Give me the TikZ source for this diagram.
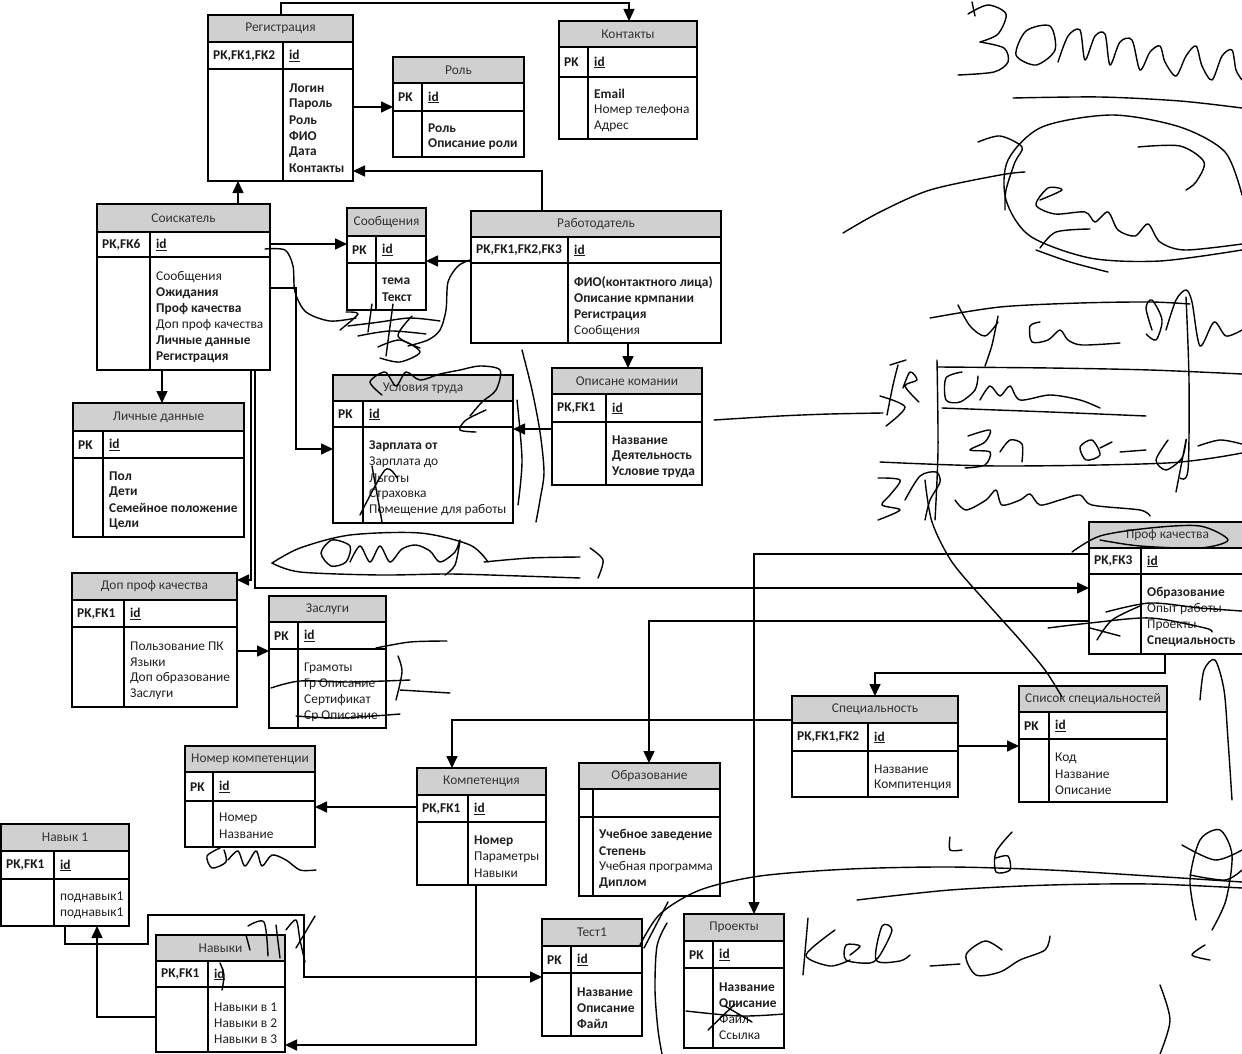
\documentclass[tikz,border=0pt]{standalone}
\usepackage{fontspec}
\setmainfont{Carlito}
\usetikzlibrary{arrows.meta}
\definecolor{hdrgray}{RGB}{208,208,208}
\def\fsb{\bfseries}
\def\fsn{\mdseries}
\tikzset{
  tblbox/.style={draw=black, line width=1.1pt, inner sep=0pt, outer sep=0pt},
  tline/.style={draw=black, line width=1.1pt},
  ttl/.style={inner sep=0pt, font=\fontsize{13.4}{16}\selectfont, text=black!80},
  pktext/.style={inner sep=0pt, anchor=west, font=\fontsize{13.4}{16}\selectfont\bfseries, text=black!90},
  fld/.style={inner sep=0pt, anchor=west, font=\fontsize{13.4}{16}\selectfont, text=black!88},
  conn/.style={draw=black, line width=1.6pt, -{Triangle[length=12pt,width=11pt]}},
  ink/.style={draw=black, line width=1.4pt, line cap=round, line join=round},
}
% name, x1, y1, x2, y2, header bottom, pk bottom, divider, title
\newcommand\ertab[9]{%
  \fill[hdrgray] (#2,#3) rectangle (#4,#6);
  \draw[tline] (#2,#6) -- (#4,#6) (#2,#7) -- (#4,#7) (#8,#6) -- (#8,#5);
  \node[tblbox, anchor=north west, minimum width={(#4-#2)*1pt}, minimum height={(#5-#3)*1pt}] (#1) at (#2,#3) {};
  \node[ttl] (#1-t) at ({(#2+#4)/2},{(#3+#6)/2}) {#9};
  \gdef\curL{#2}\gdef\curD{#8}\gdef\curP{(#6+#7)/2+0.5}%
}
\newcommand\erpk[3]{%
  \node[pktext] (#1-pk) at ({\curL+5},{\curP}) {#2};
  \node[pktext] (#1-id) at ({\curD+6},{\curP}) {\underline{#3}};
}
\newcommand\erfld[3]{%
  \foreach \s/\t [count=\i] in {#3} {
    \node[fld] (#1-f\i) at ({\curD+6},{#2+1+16*(\i-1)}) {\csname fs\s\endcsname\t};
  }
}
\begin{document}
\begin{tikzpicture}[x=1pt,y=-1pt]
\fill[white] (0,0) rectangle (1242,1054);
\useasboundingbox (0,0) rectangle (1242,1054);

% ---------- tables ----------
\ertab{reg}{208}{15}{353}{181}{42}{69}{283}{Регистрация}
\erpk{reg}{PK,FK1,FK2}{id}
\erfld{reg}{87}{b/Логин, b/Пароль, b/Роль, b/ФИО, b/Дата, b/Контакты}

\ertab{rol}{393}{57}{524}{157}{83}{111}{422}{Роль}
\erpk{rol}{PK}{id}
\erfld{rol}{127}{b/Роль, b/Описание роли}

\ertab{kont}{559}{21}{697}{139}{47}{77}{588}{Контакты}
\erpk{kont}{PK}{id}
\erfld{kont}{93}{b/Email, n/Номер телефона, n/Адрес}

\ertab{sos}{97}{204}{270}{370}{232}{257}{150}{Соискатель}
\erpk{sos}{PK,FK6}{id}
\erfld{sos}{276}{n/Сообщения, b/Ожидания, b/Проф качества, n/Доп проф качества, b/Личные данные, b/Регистрация}

\ertab{soob}{347}{208}{426}{310}{236}{263}{376}{Сообщения}
\erpk{soob}{PK}{id}
\erfld{soob}{280}{b/тема, b/Текст}

\ertab{rab}{471}{211}{721}{343}{237}{263}{568}{Работодатель}
\erpk{rab}{PK,FK1,FK2,FK3}{id}
\erfld{rab}{282}{b/ФИО(контактного лица), b/Описание крмпании, b/Регистрация, n/Сообщения}

\ertab{opis}{552}{368}{702}{485}{394}{422}{606}{Описане комании}
\erpk{opis}{PK,FK1}{id}
\erfld{opis}{439}{b/Название, b/Деятельность, b/Условие труда}

\ertab{usl}{333}{375}{513}{523}{401}{427}{363}{Условия труда}
\erpk{usl}{PK}{id}
\erfld{usl}{445}{b/Зарплата от, n/Зарплата до, n/Льготы, n/Страховка, n/Помещение для работы}

\ertab{lich}{73}{403}{244}{537}{431}{458}{103}{Личные данные}
\erpk{lich}{PK}{id}
\erfld{lich}{475}{b/Пол, b/Дети, b/Семейное положение, b/Цели}

\ertab{dop}{72}{573}{237}{707}{600}{627}{124}{Доп проф качества}
\erpk{dop}{PK,FK1}{id}
\erfld{dop}{645}{n/Пользование ПК, n/Языки, n/Доп образование, n/Заслуги}

\ertab{zasl}{269}{596}{386}{728}{622}{649}{298}{Заслуги}
\erpk{zasl}{PK}{id}
\erfld{zasl}{667}{n/Грамоты, n/Гр Описание, n/Сертификат, n/Ср Описание}

\ertab{prof}{1089}{522}{1246}{654}{548}{574}{1141}{Проф качества}
\erpk{prof}{PK,FK3}{id}
\erfld{prof}{592}{b/Образование, n/Опыт работы, n/Проекты, b/Специальность}

\ertab{spec}{792}{696}{958}{797}{723}{751}{868}{Специальность}
\erpk{spec}{PK,FK1,FK2}{id}
\erfld{spec}{768}{n/Название, n/Компитенция}

\ertab{spis}{1019}{686}{1167}{802}{712}{739}{1049}{Список специальностей}
\erpk{spis}{PK}{id}
\erfld{spis}{757}{n/Код, n/Название, n/Описание}

\ertab{obr}{579}{763}{720}{896}{789}{817}{593}{Образование}
\erfld{obr}{834}{b/Учебное заведение, b/Степень, n/Учебная программа, b/Диплом}

\ertab{proj}{684}{914}{784}{1048}{941}{968}{713}{Проекты}
\erpk{proj}{PK}{id}
\erfld{proj}{986}{b/Название, b/Описание, n/Файл, n/Ссылка}

\ertab{test}{542}{919}{642}{1036}{946}{973}{571}{Тест1}
\erpk{test}{PK}{id}
\erfld{test}{991}{b/Название, b/Описание, b/Файл}

\ertab{komp}{417}{768}{546}{885}{795}{822}{468}{Компетенция}
\erpk{komp}{PK,FK1}{id}
\erfld{komp}{840}{b/Номер, n/Параметры, n/Навыки}

\ertab{nom}{185}{746}{315}{847}{772}{801}{213}{Номер компетенции}
\erpk{nom}{PK}{id}
\erfld{nom}{817}{n/Номер, n/Название}

\ertab{nav1}{1}{824}{129}{926}{851}{879}{54}{Навык 1}
\erpk{nav1}{PK,FK1}{id}
\erfld{nav1}{896}{n/поднавык1, n/поднавык1}

\ertab{navk}{156}{935}{285}{1052}{961}{987}{208}{Навыки}
\erpk{navk}{PK,FK1}{id}
\erfld{navk}{1006}{n/Навыки в 1, n/Навыки в 2, n/Навыки в 3}

% ---------- connectors ----------
\draw[conn] (281,0 |- reg.north) -- (281,3) -| (629,0 |- kont.north);
\draw[conn] (reg.east |- 0,107) -- (rol.west |- 0,107);
\draw[conn] (542,0 |- rab.north) |- (reg.east |- 0,171);
\draw[conn] (238,0 |- sos.north) -- (238,0 |- reg.south);
\draw[conn] (sos.east |- 0,244) -- (soob.west |- 0,244);
\draw[conn] (rab.west |- 0,261) -- (soob.east |- 0,261);
\draw[conn] (sos.east |- 0,288) -- (296,288) |- (usl.west |- 0,449);
\draw[conn] (628,0 |- rab.south) -- (628,0 |- opis.north);
\draw[conn] (opis.west |- 0,429) -- (usl.east |- 0,429);
\draw[conn] (162,0 |- sos.south) -- (162,0 |- lich.north);
\draw[conn] (251,0 |- sos.south) |- (dop.east |- 0,580);
\draw[conn] (255,0 |- sos.south) |- (prof.west |- 0,588);
\draw[conn] (dop.east |- 0,651) -- (zasl.west |- 0,651);
\draw[conn] (prof.west |- 0,554) -| (754,0 |- proj.north);
\draw[conn] (prof.west |- 0,621) -| (649,0 |- obr.north);
\draw[conn] (1165,0 |- prof.south) -- (1165,673) -| (875,0 |- spec.north);
\draw[conn] (spec.west |- 0,720) -| (452,0 |- komp.north);
\draw[conn] (spec.east |- 0,746) -- (spis.west |- 0,746);
\draw[conn] (komp.west |- 0,807) -- (nom.east |- 0,807);
\draw[conn] (476,0 |- komp.south) |- (navk.east |- 0,1045);
\draw[conn] (65,0 |- nav1.south) -- (65,944) -- (148,944) -- (148,915) -- (304,915) |- (test.west |- 0,977);
\draw[conn] (navk.west |- 0,1017) -| (97,0 |- nav1.south);

% ---------- handwriting (ink strokes) ----------
% top right
\draw[ink] plot[smooth] coordinates {(968,14) (988,5) (1006,14) (998,34) (980,42)};
\draw[ink] plot[smooth] coordinates {(980,42) (1004,48) (1008,62) (994,72) (958,75)};
\draw[ink] plot[smooth] coordinates {(972,2) (975,16)};
\draw[ink] plot[smooth cycle] coordinates {(1050,26) (1026,31) (1016,55) (1036,65) (1055,50)};
\draw[ink] plot[smooth] coordinates {(1058,62) (1068,36) (1080,30) (1085,60) (1095,36) (1105,34) (1110,65) (1120,42) (1132,40) (1140,70) (1150,52) (1160,46) (1165,62) (1176,76) (1186,56) (1196,46) (1202,66) (1212,80) (1222,56) (1232,50) (1236,70) (1242,80)};
\draw[ink] plot[smooth] coordinates {(1013,98) (1100,97) (1180,101) (1242,108)};
\draw[ink] plot[smooth] coordinates {(1242,195) (1225,152) (1180,127) (1112,115) (1042,127) (1008,160) (1006,200) (1030,236) (1090,258) (1160,261) (1242,250)};
\draw[ink] plot[smooth] coordinates {(843,233) (880,212) (930,190) (1000,175) (1025,172)};
\draw[ink] plot[smooth] coordinates {(978,142) (1000,136) (1022,147) (1015,162) (1006,190) (1005,210)};
\draw[ink] plot[smooth] coordinates {(1040,200) (1062,190) (1048,188) (1036,205) (1055,214) (1085,212) (1095,222) (1108,212) (1118,230) (1135,236) (1148,224) (1160,242) (1185,250) (1242,244)};
\draw[ink] plot[smooth] coordinates {(1138,147) (1180,146) (1204,162) (1196,182) (1186,190)};
\draw[ink] plot[smooth] coordinates {(1040,248) (1056,232) (1090,229)};
\draw[ink] plot[smooth] coordinates {(1036,250) (1070,262) (1108,272)};
% middle right
\draw[ink] plot[smooth] coordinates {(930,318) (1000,307) (1080,303) (1150,302) (1190,304)};
\draw[ink] plot[smooth] coordinates {(958,305) (970,326) (985,336) (998,322)};
\draw[ink] plot[smooth] coordinates {(998,316) (992,345) (985,366)};
\draw[ink] plot[smooth] coordinates {(1040,322) (1030,326) (1032,342) (1048,340) (1060,330) (1068,340) (1082,345) (1120,343)};
\draw[ink] plot[smooth] coordinates {(1152,330) (1146,308) (1152,300) (1162,320) (1156,340) (1146,334)};
\draw[ink] plot[smooth] coordinates {(1166,330) (1176,300) (1186,290) (1192,302) (1200,346) (1214,322) (1226,336) (1242,330)};
\draw[ink] plot[smooth] coordinates {(1186,297) (1189,380) (1188,470) (1180,478)};
\draw[ink] plot[smooth] coordinates {(938,367) (1050,368) (1150,370) (1242,374)};
\draw[ink] plot[smooth] coordinates {(887,415) (893,385) (898,365)};
\draw[ink] plot[smooth] coordinates {(890,365) (906,360)};
\draw[ink] plot[smooth] coordinates {(903,388) (910,372) (917,380) (905,386) (919,402)};
\draw[ink] plot[smooth] coordinates {(937,360) (938,450) (935,520)};
\draw[ink] plot[smooth] coordinates {(962,372) (946,378) (946,400) (960,402) (975,390) (978,376)};
\draw[ink] plot[smooth] coordinates {(980,400) (990,386) (1000,396) (1010,386) (1020,400) (1050,395) (1080,400) (1100,408)};
\draw[ink] plot[smooth] coordinates {(942,408) (1050,412) (1146,416)};
\draw[ink] plot[smooth] coordinates {(968,436) (990,430) (985,442) (970,450) (990,452) (985,465) (965,468)};
\draw[ink] plot[smooth] coordinates {(1000,452) (1010,440) (1022,444) (1022,462)};
\draw[ink] plot[smooth cycle] coordinates {(1080,447) (1092,440) (1100,455) (1086,460)};
\draw[ink] plot[smooth] coordinates {(1100,448) (1112,442)};
\draw[ink] plot[smooth] coordinates {(1120,452) (1146,450)};
\draw[ink] plot[smooth] coordinates {(1168,440) (1156,460) (1166,470) (1182,458) (1186,440) (1176,492)};
\draw[ink] plot[smooth] coordinates {(1198,446) (1220,440) (1242,444)};
\draw[ink] plot[smooth] coordinates {(880,462) (1000,466) (1167,463) (1242,453)};
\draw[ink] plot[smooth] coordinates {(878,478) (900,480) (890,495) (882,505) (900,510) (878,520)};
\draw[ink] plot[smooth] coordinates {(905,500) (920,476) (936,472) (940,482) (930,500) (925,520)};
\draw[ink] plot[smooth] coordinates {(955,500) (966,510) (986,500) (996,490) (1002,505) (1020,500) (1030,494) (1040,505) (1060,500) (1080,495) (1092,505) (1140,510) (1150,516)};
\draw[ink] plot[smooth] coordinates {(714,420) (780,416) (830,414) (883,413)};
\draw[ink] plot[smooth] coordinates {(880,396) (905,407) (886,426)};
\draw[ink] plot[smooth] coordinates {(925,480) (932,522) (952,562) (986,602) (1020,640) (1045,670) (1062,697)};
% around Soobshcheniya / Usloviya truda
\draw[ink] plot[smooth] coordinates {(265,249) (285,250) (293,266) (295,292) (306,312) (330,321) (356,318)};
\draw[ink] plot[smooth] coordinates {(340,330) (358,314) (346,312)};
\draw[ink] plot[smooth] coordinates {(348,326) (380,322) (410,318) (440,321)};
\draw[ink] plot[smooth] coordinates {(358,336) (390,331) (426,334)};
\draw[ink] plot[smooth] coordinates {(372,304) (368,332)};
\draw[ink] plot[smooth] coordinates {(393,304) (386,356)};
\draw[ink] plot[smooth] coordinates {(412,316) (398,336) (420,348)};
\draw[ink] plot[smooth] coordinates {(378,347) (400,340) (420,352) (400,362) (380,358)};
\draw[ink] plot[smooth] coordinates {(470,260) (458,266) (448,282) (446,310) (440,330) (428,340) (408,346)};
\draw[ink] plot[smooth] coordinates {(382,395) (370,382) (385,372) (396,386) (406,372) (420,380) (440,374) (460,370) (480,366) (500,370) (496,390) (482,402) (470,416)};
\draw[ink] plot[smooth] coordinates {(486,410) (466,420) (460,430) (476,432)};
\draw[ink] plot[smooth] coordinates {(522,350) (532,390) (540,432) (544,472) (540,500) (536,522)};
\draw[ink] plot[smooth] coordinates {(517,400) (522,460) (518,505)};
\draw[ink] plot[smooth] coordinates {(360,515) (385,470) (397,478)};
\draw[ink] plot[smooth] coordinates {(372,466) (382,522)};
% Otchet ellipse
\draw[ink] plot[smooth] coordinates {(488,562) (470,545) (420,533) (350,535) (300,548) (272,563)};
\draw[ink] plot[smooth] coordinates {(272,563) (300,572) (380,575) (450,574) (520,576) (580,578)};
\draw[ink] plot[smooth cycle] coordinates {(332,540) (321,553) (331,566) (346,562) (350,546)};
\draw[ink] plot[smooth] coordinates {(350,562) (360,546) (370,562) (380,546) (390,562) (402,549) (416,545) (430,551) (440,562) (455,552) (460,540) (455,565) (445,575)};
\draw[ink] plot[smooth] coordinates {(484,562) (530,558) (580,557)};
\draw[ink] plot[smooth] coordinates {(590,548) (603,560) (598,578)};
% Zaslugi
\draw[ink] plot[smooth] coordinates {(271,688) (300,681) (350,682) (410,680)};
\draw[ink] plot[smooth] coordinates {(296,716) (340,718) (400,714)};
\draw[ink] plot[smooth] coordinates {(376,648) (410,642) (447,641)};
\draw[ink] plot[smooth] coordinates {(398,656) (402,672) (396,700)};
\draw[ink] plot[smooth] coordinates {(400,690) (450,693)};
% Nomer / Navyki
\draw[ink] plot[smooth] coordinates {(220,848) (207,856) (212,868) (226,862) (224,850)};
\draw[ink] plot[smooth] coordinates {(228,860) (238,851) (245,866) (256,851) (262,866) (272,855) (286,860) (300,870) (316,870)};
\draw[ink] plot[smooth] coordinates {(246,935) (250,950)};
\draw[ink] plot[smooth] coordinates {(248,926) (264,922) (268,956)};
\draw[ink] plot[smooth] coordinates {(276,925) (280,958)};
\draw[ink] plot[smooth] coordinates {(286,930) (296,920) (300,940) (305,962)};
\draw[ink] plot[smooth] coordinates {(296,948) (315,916)};
\draw[ink] plot[smooth] coordinates {(220,963) (224,975) (222,990)};
% Prof kachestva
\draw[ink] plot[smooth] coordinates {(1072,552) (1100,536) (1150,528) (1200,526) (1228,540) (1200,548) (1140,546) (1100,540)};
\draw[ink] plot[smooth] coordinates {(1106,612) (1150,603) (1200,608) (1242,611)};
\draw[ink] plot[smooth] coordinates {(1048,628) (1090,623) (1150,618) (1205,628) (1212,632)};
\draw[ink] plot[smooth] coordinates {(1097,640) (1112,620) (1140,606)};
\draw[ink] plot[smooth] coordinates {(1090,628) (1120,636)};
% right edge
\draw[ink] plot[smooth] coordinates {(1200,700) (1204,670) (1215,660) (1224,690) (1228,740) (1232,800)};
\draw[ink] plot[smooth] coordinates {(1196,920) (1190,880) (1200,840) (1220,830) (1232,855) (1226,900) (1212,930)};
\draw[ink] plot[smooth] coordinates {(1182,845) (1215,860) (1242,850)};
\draw[ink] plot[smooth] coordinates {(1190,875) (1225,880) (1242,870)};
\draw[ink] plot[smooth] coordinates {(1205,945) (1192,955) (1210,960)};
\draw[ink] plot[smooth] coordinates {(950,837) (950,850) (962,850)};
\draw[ink] plot[smooth] coordinates {(1012,832) (996,852) (996,872) (1010,870) (1008,856) (996,858)};
% bottom curves
\draw[ink] plot[smooth] coordinates {(640,945) (660,914) (700,890) (760,876) (850,869) (950,867) (1050,870) (1150,876) (1242,882)};
\draw[ink] plot[smooth] coordinates {(857,900) (950,890) (1050,885) (1150,884) (1242,888)};
\draw[ink] plot[smooth] coordinates {(644,948) (668,902)};
\draw[ink] plot[smooth] coordinates {(667,923) (657,946) (655,990) (658,1030) (662,1054)};
\draw[ink] plot[smooth] coordinates {(1160,985) (1170,1020) (1160,1054)};
% Kel-Bo
\draw[ink] plot[smooth] coordinates {(808,918) (803,975)};
\draw[ink] plot[smooth] coordinates {(835,930) (806,955) (830,966) (850,960)};
\draw[ink] plot[smooth] coordinates {(850,955) (860,946) (846,945) (846,960) (870,963) (880,955) (892,930) (882,926) (876,960) (900,961) (910,955)};
\draw[ink] plot[smooth] coordinates {(930,966) (960,964)};
\draw[ink] plot[smooth] coordinates {(1002,950) (985,941) (966,955) (976,975) (1000,972) (1020,960) (1045,950) (1050,936)};
% Proekty strike
\draw[ink] plot[smooth] coordinates {(686,1011) (740,1016) (784,1014)};
\draw[ink] plot[smooth] coordinates {(708,1030) (735,1004)};
\draw[ink] plot[smooth] coordinates {(725,1006) (752,1022)};
\end{tikzpicture}
\end{document}
